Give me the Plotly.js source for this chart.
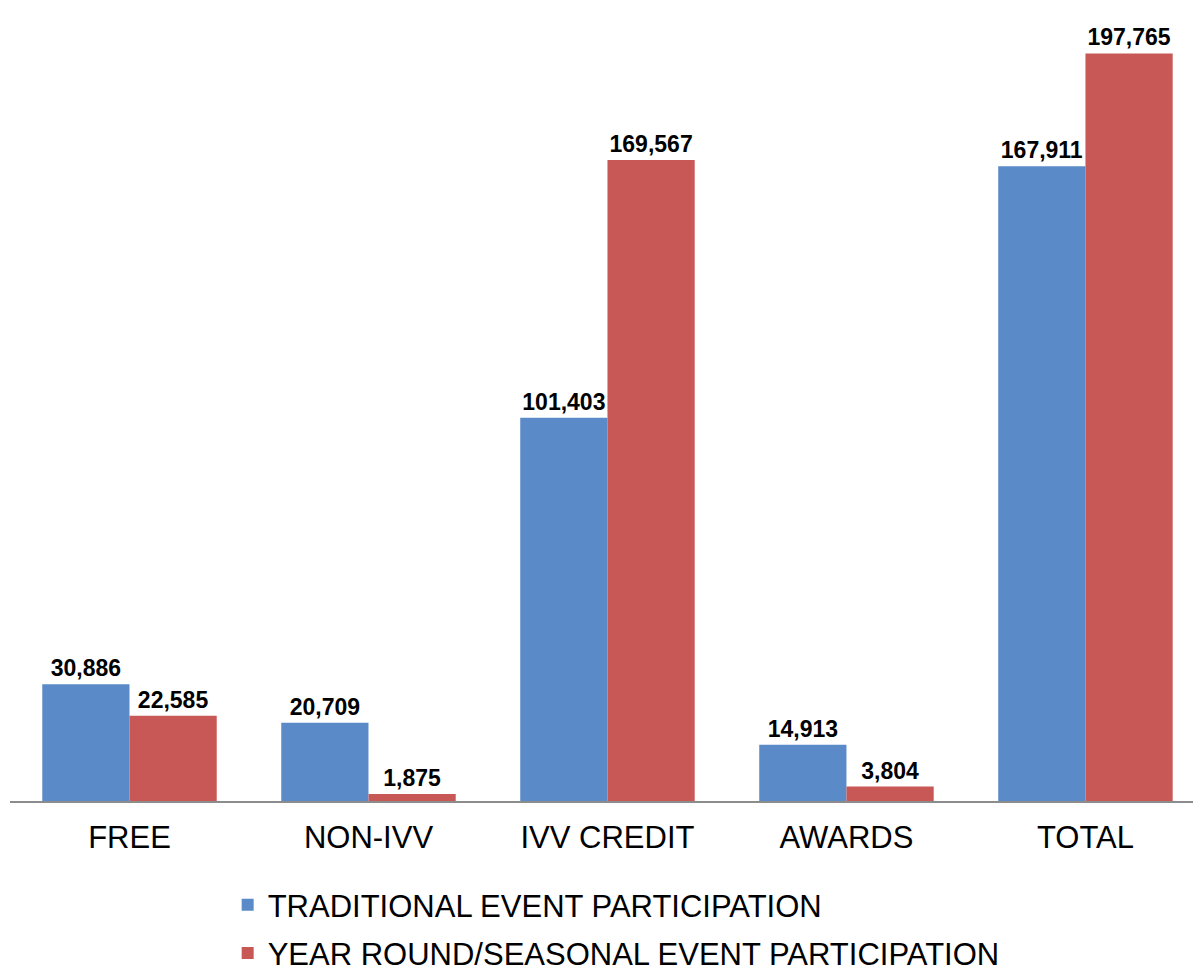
<!DOCTYPE html>
<html>
<head>
<meta charset="utf-8">
<script src="https://cdn.plot.ly/plotly-3.0.1.min.js"></script>
<style>html,body{margin:0;padding:0;background:#fff;}#chart{width:1197px;height:973px;}</style>
</head>
<body>
<div id="chart"></div>
<script>
const categories = ["FREE", "NON-IVV", "IVV CREDIT", "AWARDS", "TOTAL"];
const traditional = [30886, 20709, 101403, 14913, 167911];
const yearRound = [22585, 1875, 169567, 3804, 197765];
const seriesNames = ["TRADITIONAL EVENT PARTICIPATION", "YEAR ROUND/SEASONAL EVENT PARTICIPATION"];

const fmt = v => v.toLocaleString('en-US');
const labelFont = {family: '"Liberation Sans", Arial, sans-serif', size: 23, color: '#000', weight: 'bold'};

const traces = [
  {type: 'bar', name: seriesNames[0], x: categories, y: traditional, text: traditional.map(fmt),
   textposition: 'outside', textfont: labelFont, cliponaxis: false, legendgroup: 'a',
   marker: {color: '#5A8BC8'}, hoverinfo: 'none'},
  {type: 'bar', name: seriesNames[1], x: categories, y: yearRound, text: yearRound.map(fmt),
   textposition: 'outside', textfont: labelFont, cliponaxis: false, legendgroup: 'b',
   marker: {color: '#C85855'}, hoverinfo: 'none'}
];

const layout = {
  width: 1197, height: 973,
  margin: {l: 10, r: 4, t: 45, b: 172, autoexpand: false},
  paper_bgcolor: '#fff', plot_bgcolor: '#fff',
  barmode: 'group', bargap: 0.27, bargroupgap: 0,
  font: {family: '"Liberation Sans", Arial, sans-serif', color: '#000'},
  xaxis: {type: 'category', range: [-0.5, 4.45], showline: true, linecolor: '#8c8c8c', linewidth: 2,
          showgrid: false, zeroline: false, ticks: '', ticklabelstandoff: 8,
          tickfont: {size: 31, color: '#000'}, fixedrange: true},
  yaxis: {range: [0, 200000], visible: false, showgrid: false, zeroline: false, fixedrange: true},
  showlegend: true,
  legend: {orientation: 'v', x: 0.184, xanchor: 'left', y: -0.102, yanchor: 'top',
           traceorder: 'grouped', tracegroupgap: 5, font: {size: 31, color: '#000'},
           bgcolor: 'rgba(0,0,0,0)'}
};

Plotly.newPlot('chart', traces, layout, {displayModeBar: false, staticPlot: true});
</script>
</body>
</html>
